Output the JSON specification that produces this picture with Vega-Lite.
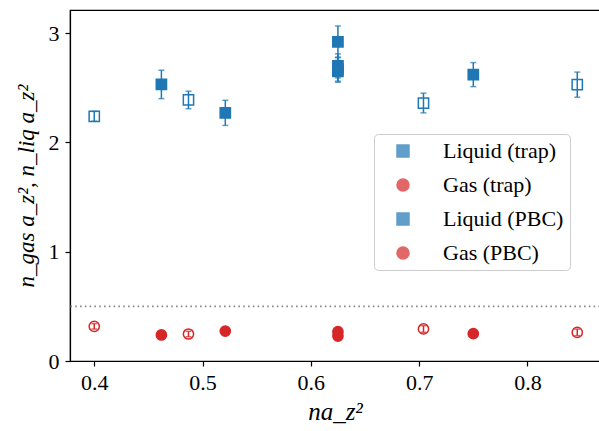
{
  "$schema": "https://vega.github.io/schema/vega-lite/v6.json",
  "width": 530,
  "height": 351,
  "autosize": "none",
  "padding": {"left": 70, "top": 10, "right": 0, "bottom": 70},
  "background": "white",
  "config": {
    "font": "Liberation Serif",
    "view": {"stroke": "black", "strokeWidth": 1.2},
    "axis": {
      "grid": false,
      "domainColor": "black",
      "domainWidth": 1.2,
      "tickColor": "black",
      "tickWidth": 1.2,
      "tickSize": 5,
      "labelColor": "black",
      "labelFont": "Liberation Serif",
      "labelFontSize": 22,
      "titleFont": "Liberation Serif",
      "titleColor": "black",
      "titleFontWeight": "normal",
      "titleFontStyle": "italic"
    }
  },
  "datasets": {
    "points": [
      {"series": "Liquid (trap)", "x": 0.462, "y": 2.53, "err": 0.13},
      {"series": "Liquid (trap)", "x": 0.521, "y": 2.27, "err": 0.115},
      {"series": "Liquid (trap)", "x": 0.625, "y": 2.92, "err": 0.145},
      {"series": "Liquid (trap)", "x": 0.625, "y": 2.70, "err": 0.11},
      {"series": "Liquid (trap)", "x": 0.625, "y": 2.67, "err": 0.11},
      {"series": "Liquid (trap)", "x": 0.625, "y": 2.65, "err": 0.10},
      {"series": "Liquid (trap)", "x": 0.75, "y": 2.62, "err": 0.11},
      {"series": "Gas (trap)", "x": 0.462, "y": 0.238, "err": 0.01},
      {"series": "Gas (trap)", "x": 0.521, "y": 0.274, "err": 0.01},
      {"series": "Gas (trap)", "x": 0.625, "y": 0.268, "err": 0.01},
      {"series": "Gas (trap)", "x": 0.625, "y": 0.228, "err": 0.01},
      {"series": "Gas (trap)", "x": 0.75, "y": 0.25, "err": 0.01},
      {"series": "Liquid (PBC)", "x": 0.40, "y": 2.238, "err": 0.045},
      {"series": "Liquid (PBC)", "x": 0.487, "y": 2.388, "err": 0.08},
      {"series": "Liquid (PBC)", "x": 0.704, "y": 2.36, "err": 0.09},
      {"series": "Liquid (PBC)", "x": 0.846, "y": 2.528, "err": 0.115},
      {"series": "Gas (PBC)", "x": 0.40, "y": 0.317, "err": 0.025},
      {"series": "Gas (PBC)", "x": 0.487, "y": 0.247, "err": 0.025},
      {"series": "Gas (PBC)", "x": 0.704, "y": 0.293, "err": 0.03},
      {"series": "Gas (PBC)", "x": 0.846, "y": 0.262, "err": 0.03}
    ],
    "ref": [{"ref": 0.5}]
  },
  "layer": [
    {
      "data": {"name": "ref"},
      "mark": {"type": "rule", "stroke": "#888888", "strokeWidth": 1.6, "strokeDash": [1.6, 3.2]},
      "encoding": {
        "y": {"field": "ref", "type": "quantitative", "scale": {"domain": [0, 3.211], "nice": false, "zero": false},
              "axis": {"title": "n_gas a_z²,  n_liq a_z²", "values": [0, 1, 2, 3], "format": "d", "titleFontSize": 23, "titlePadding": 10, "labelPadding": 6}}
      }
    },
    {
      "data": {"name": "points"},
      "mark": {"type": "errorbar", "ticks": {"size": 6, "thickness": 1.5}, "rule": {"strokeWidth": 1.5}},
      "encoding": {
        "x": {"field": "x", "type": "quantitative", "scale": {"domain": [0.3776, 0.867], "nice": false, "zero": false},
              "axis": {"title": "na_z²", "values": [0.4, 0.5, 0.6, 0.7, 0.8], "format": ".1f", "titleFontSize": 25, "titlePadding": 6, "labelPadding": 6}},
        "y": {"field": "y", "type": "quantitative", "title": "n_gas a_z²,  n_liq a_z²"},
        "yError": {"field": "err"},
        "color": {"field": "series", "type": "nominal",
                  "scale": {"domain": ["Liquid (trap)", "Gas (trap)", "Liquid (PBC)", "Gas (PBC)"], "range": ["#1f77b4", "#d62728", "#1f77b4", "#d62728"]}}
      }
    },
    {
      "data": {"name": "points"},
      "mark": {"type": "point", "strokeWidth": 1.5, "opacity": 1, "size": 105},
      "encoding": {
        "x": {"field": "x", "type": "quantitative", "title": "na_z²"},
        "y": {"field": "y", "type": "quantitative", "title": "n_gas a_z²,  n_liq a_z²"},
        "shape": {"field": "series", "type": "nominal",
                  "scale": {"domain": ["Liquid (trap)", "Gas (trap)", "Liquid (PBC)", "Gas (PBC)"], "range": ["square", "circle", "square", "circle"]},
                  "legend": {
                    "orient": "none", "legendX": 304, "legendY": 124, "title": null,
                    "padding": 6, "symbolOffset": 12, "labelOffset": 29, "rowPadding": 12,
                    "labelFontSize": 22, "labelFont": "Liberation Serif", "labelColor": "black",
                    "fillColor": "rgba(255,255,255,0.8)", "strokeColor": "#cccccc", "cornerRadius": 4,
                    "symbolSize": 144, "symbolStrokeWidth": 1.5, "symbolOpacity": 1
                  }},
        "stroke": {"field": "series", "type": "nominal",
                   "scale": {"domain": ["Liquid (trap)", "Gas (trap)", "Liquid (PBC)", "Gas (PBC)"], "range": ["#1f77b4", "#d62728", "#1f77b4", "#d62728"]}},
        "fill": {"field": "series", "type": "nominal",
                 "scale": {"domain": ["Liquid (trap)", "Gas (trap)", "Liquid (PBC)", "Gas (PBC)"], "range": ["#1f77b4", "#d62728", "rgba(255,255,255,0)", "rgba(255,255,255,0)"]}}
      }
    }
  ]
}
